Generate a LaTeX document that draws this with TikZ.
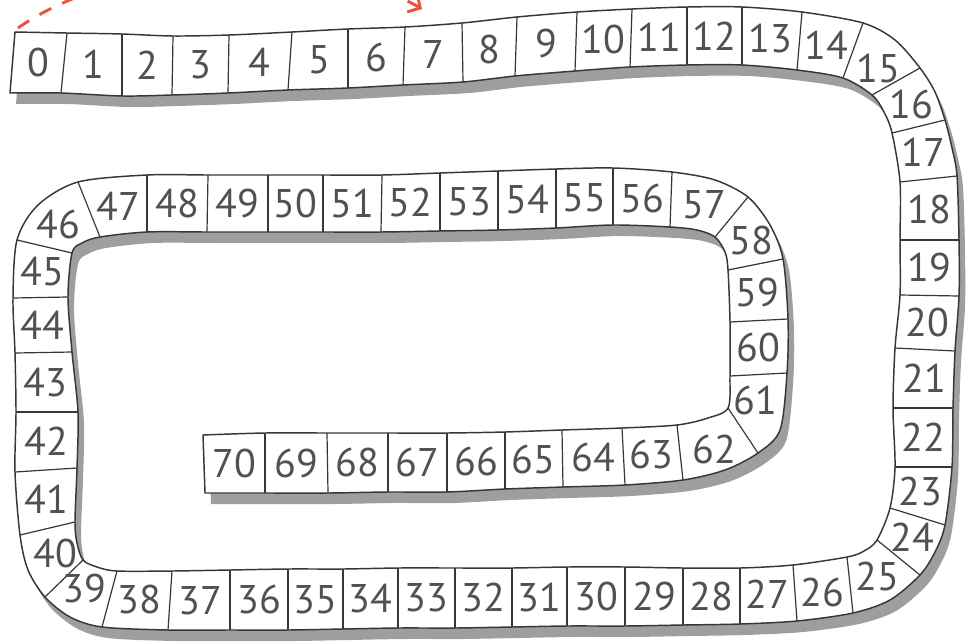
\documentclass[tikz,border=0pt]{standalone}
\usepackage{fontspec}
\setmainfont{PT Sans}
\usetikzlibrary{calc,arrows.meta}
\definecolor{edgec}{RGB}{58,54,54}
\definecolor{shadowc}{RGB}{158,158,158}
\definecolor{textc}{RGB}{82,80,80}
\definecolor{arrowc}{RGB}{234,84,62}
\begin{document}
\begin{tikzpicture}[x=0.75pt,y=-0.75pt,
  edge/.style={draw=edgec,line width=1.1pt,line join=round},
  divider/.style={draw=edgec,line width=0.9pt},
  lab/.style={text=textc,font=\fontsize{30}{30}\selectfont,inner sep=0pt}]
\useasboundingbox (0,0) rectangle (973,642);
\def\trackshape{plot[smooth,tension=0.5] coordinates {(15,32) (67,33) (122,34) (173,36) (229,35) (292,32) (348,29) (405,27) (462,23) (517,17) (577,12) (632,9) (687,7) (742,7) (802,12) (863,23) (895,40) (920,68) (935,92) (945,120) (952,148) (957,176) (959,240) (959,296) (955,351) (953,408) (952,467) (945,525) (935,552) (920,575) (890,600) (853,613) (797,621) (740,624) (683,625) (625,626) (567,626) (512,627) (455,628) (398,628) (343,629) (288,630) (230,630) (168,630) (102,627) (70,617) (45,597) (28,570) (20,535) (15,472) (16,412) (15,353) (13,298) (17,240) (38,205) (78,182) (147,175) (208,175) (268,175) (323,175) (382,175) (440,173) (498,171) (556,169) (613,168) (672,172) (715,180) (748,197) (770,225) (783,259) (788,319) (787,373) (780,430) (758,453) (725,470) (683,480) (625,485) (563,487) (505,489) (447,492) (388,492) (328,493) (265,493) (205,493)}
 -- plot[smooth,tension=0.5] coordinates {(203,435) (265,433) (327,433) (388,433) (447,433) (505,432) (562,430) (622,428) (677,425) (708,418) (728,408) (730,376) (730,322) (728,270) (725,252) (715,237) (697,230) (670,227) (613,225) (556,228) (498,230) (440,231) (381,232) (323,232) (268,232) (207,232) (147,232) (100,237) (82,243) (72,253) (68,297) (72,352) (78,412) (77,468) (75,522) (77,543) (83,560) (97,567) (117,571) (172,571) (230,570) (288,569) (343,569) (398,568) (455,568) (512,568) (567,567) (625,567) (683,568) (740,568) (793,565) (847,557) (864,551) (877,540) (890,508) (895,467) (893,408) (895,348) (900,295) (900,240) (900,182) (892,133) (884,112) (872,95) (843,78) (797,70) (742,65) (687,65) (630,67) (575,71) (515,76) (463,82) (403,85) (348,88) (288,90) (228,93) (172,95) (122,96) (61,93) (10,93)}
 -- cycle}
% shadow
\begin{scope}[shift={(6,11)}]
\fill[shadowc] \trackshape;
\end{scope}
% strip
\path[fill=white,edge] \trackshape;
% divider end points
\foreach \k/\ox/\oy/\ix/\iy in {0/15/32/10/93, 1/67/33/61/93, 2/122/34/122/96, 3/173/36/172/95, 4/229/35/228/93, 5/292/32/288/90, 6/348/29/348/88, 7/405/27/403/85, 8/462/23/463/82, 9/517/17/515/76, 10/577/12/575/71, 11/632/9/630/67, 12/687/7/687/65, 13/742/7/742/65, 14/802/12/797/70, 15/863/23/843/78, 16/920/68/872/95, 17/945/120/892/133, 18/957/176/900/182, 19/959/240/900/240, 20/959/296/900/295, 21/955/351/895/348, 22/953/408/893/408, 23/952/467/895/467, 24/945/525/890/508, 25/920/575/877/540, 26/853/613/847/557, 27/797/621/793/565, 28/740/624/740/568, 29/683/625/683/568, 30/625/626/625/567, 31/567/626/567/567, 32/512/627/512/568, 33/455/628/455/568, 34/398/628/398/568, 35/343/629/343/569, 36/288/630/288/569, 37/230/630/230/570, 38/168/630/172/571, 39/102/627/117/571, 40/45/597/83/560, 41/20/535/75/522, 42/15/472/77/468, 43/16/412/78/412, 44/15/353/72/352, 45/13/298/68/297, 46/17/240/72/253, 47/78/182/100/237, 48/147/175/147/232, 49/208/175/207/232, 50/268/175/268/232, 51/323/175/323/232, 52/382/175/381/232, 53/440/173/440/231, 54/498/171/498/230, 55/556/169/556/228, 56/613/168/613/225, 57/672/172/670/227, 58/748/197/715/237, 59/783/259/728/270, 60/788/319/730/322, 61/787/373/730/376, 62/758/453/728/408, 63/683/480/677/425, 64/625/485/622/428, 65/563/487/562/430, 66/505/489/505/432, 67/447/492/447/433, 68/388/492/388/433, 69/328/493/327/433, 70/265/493/265/433, 71/205/493/203/435}
{
  \coordinate (o\k) at (\ox,\oy);
  \coordinate (i\k) at (\ix,\iy);
}
\foreach \k in {1,...,70} \draw[divider] (o\k) -- (i\k);
% labels
\foreach \k/\dx/\dy [count=\n from 1] in {0/0/0, 1/0/0, 2/0/0, 3/0/0, 4/0/0, 5/0/0, 6/0/0, 7/0/0, 8/0/0, 9/0/0, 10/0/0, 11/0/0, 12/0/0, 13/0/0, 14/0/0, 15/4/2, 16/4/0, 17/0/0, 18/0/0, 19/0/0, 20/0/0, 21/0/0, 22/0/0, 23/0/0, 24/4/0, 25/3/5, 26/0/3, 27/0/0, 28/0/0, 29/0/0, 30/0/0, 31/0/0, 32/0/0, 33/0/0, 34/0/0, 35/0/0, 36/0/0, 37/0/0, 38/0/0, 39/-2/0, 40/0/0, 41/0/0, 42/0/0, 43/0/0, 44/0/0, 45/0/0, 46/-8/-4, 47/0/0, 48/0/0, 49/0/0, 50/0/0, 51/0/0, 52/0/0, 53/0/0, 54/0/0, 55/0/0, 56/0/0, 57/3/-4, 58/8/0, 59/0/0, 60/0/0, 61/5/-2, 62/3/8, 63/0/0, 64/0/0, 65/0/0, 66/0/0, 67/0/0, 68/0/0, 69/0/0, 70/0/0}
{
  \node[lab] (c\k) at ($0.25*(o\k)+0.25*(o\n)+0.25*(i\k)+0.25*(i\n)+(\dx,\dy)$) {\k};
}
% red dashed arrow
\coordinate (as) at (18,28);
\coordinate (ae) at (422,9);
\begin{scope}
\clip (0,0) rectangle (973,642);
\draw[arrowc,line width=2.2pt,dash pattern=on 10pt off 9pt,
  -{Straight Barb[length=7pt,width=15pt]}]
  (as) .. controls (130,-50) and (330,-45) .. (ae);
\end{scope}
\end{tikzpicture}
\end{document}
